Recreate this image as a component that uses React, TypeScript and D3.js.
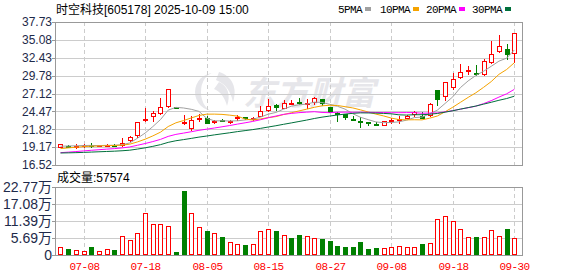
import React from "react";
import * as d3 from "d3";

const dates = [
  "07-03","07-04","07-07","07-08","07-09","07-10","07-11","07-14","07-15","07-16",
  "07-17","07-18","07-21","07-22","07-23","07-24","07-25","08-01","08-04","08-05",
  "08-06","08-07","08-08","08-11","08-12","08-13","08-14","08-15","08-18","08-19",
  "08-20","08-21","08-22","08-25","08-26","08-27","08-28","08-29","09-01","09-02",
  "09-03","09-04","09-05","09-08","09-09","09-10","09-11","09-12","09-15","09-16",
  "09-17","09-18","09-19","09-22","09-23","09-24","09-25","09-26","09-29","09-30",
];

const open = [19.09,19.4,19.25,19.4,19.55,19.36,19.42,19.52,19.27,20.03,20.87,23.05,23.64,24.13,25.17,25.05,22.55,21.81,23.35,23.55,22.9,23.15,22.98,23.4,23.6,23.35,23.64,24.48,25.37,24.87,25.6,25.8,25.6,25.77,26.28,25.1,24.3,24.03,23.4,23.1,22.95,22.6,22.35,23.1,23.2,23.4,24.0,23.75,23.75,27.6,26.56,27.94,29.42,30.32,30.2,29.92,31.6,33.23,33.68,32.93];
const close = [19.58,19.3,19.35,19.5,19.4,19.42,19.5,19.45,19.85,20.73,22.9,23.35,24.23,25.07,27.74,24.95,22.9,23.24,23.55,22.65,23.0,22.95,23.1,23.68,23.3,23.5,24.53,25.27,24.98,25.72,25.68,25.62,25.72,26.46,25.5,24.3,24.2,23.55,23.1,22.85,22.55,22.5,23.0,23.25,23.3,23.85,24.35,23.4,25.62,26.1,28.78,29.23,30.31,30.56,30.1,31.9,32.93,34.12,32.79,36.1];
const high = [19.62,19.45,19.62,19.68,19.73,19.45,19.65,19.65,20.5,20.8,22.95,24.97,24.5,26.45,27.8,25.05,23.9,23.74,24.05,23.79,23.2,23.4,23.15,23.9,23.7,23.65,25.27,26.26,25.6,26.1,26.2,26.5,26.25,26.55,26.3,25.1,24.4,24.1,23.8,23.6,22.95,22.9,23.05,23.5,23.75,24.0,24.55,24.4,25.65,27.6,28.8,30.17,31.45,31.15,31.4,32.2,34.86,35.85,34.42,36.1];
const low = [19.05,19.25,18.95,19.05,19.05,19.25,19.35,19.3,19.2,19.95,20.55,22.9,22.9,24.0,25.0,24.95,22.45,21.51,22.9,22.6,22.55,22.9,22.6,23.0,23.2,23.1,23.6,24.4,24.5,24.77,25.35,25.35,24.8,25.37,25.3,24.25,22.95,23.25,23.0,22.05,22.25,22.25,22.3,22.65,22.55,23.3,23.65,23.35,23.65,25.27,26.06,27.64,29.33,29.82,29.72,29.72,31.5,33.13,32.14,31.7];
const volume = [26700,20000,15600,12200,27800,12200,18900,15600,63300,48900,72200,142000,105000,105000,95500,8900,213000,142000,93300,78900,72200,60000,42200,35500,33300,35500,78900,85500,78900,65500,56600,66600,62200,55500,53300,46600,30000,26700,26700,43300,20000,23300,22200,26700,30000,25500,26700,36700,38900,119000,129000,115500,86600,60000,60000,60000,82200,63300,86600,57574];

// closes of the 29 sessions before the first visible candle (feed the moving averages)
const priorCloses = [18.6,18.5,18.3,18.1,18.0,18.2,18.1,18.0,18.2,18.0,17.8,17.6,17.5,17.6,17.7,17.8,17.9,17.8,17.9,17.9,18.2,18.4,18.6,18.8,19.0,19.1,19.2,19.3,19.32];

const priceTicks = [16.52,19.17,21.82,24.47,27.12,29.78,32.43,35.08,37.73];
const volumeTicks = [0,56900,113900,170800,227700];
const maPeriods = [5,10,20,30];
const maLabels = ["5PMA","10PMA","20PMA","30PMA"];

const title = "时空科技[605178] 2025-10-09 15:00";

const RED = "#ff0000";
const GREEN = "#008000";
const MA_COLORS = ["#a0a0a0","#f5a300","#ff00ff","#00703c"];
const LEGEND_X = [338,380,426,472];
const SANS = "Arial, 'Liberation Sans', 'Noto Sans CJK SC', sans-serif";
const MONO = "'Liberation Mono', 'DejaVu Sans Mono', monospace";

export default function App() {
  const W = 578, H = 276;
  const L = 55, R = 522, T = 22, B = 165, VT = 187, VB = 255;
  const n = close.length;

  const x = d3.scaleLinear().domain([-0.715, 60]).range([L, R]);
  const y = d3.scaleLinear().domain([priceTicks[0], priceTicks[priceTicks.length - 1]]).range([B, T]);
  const yv = d3.scaleLinear().domain([0, volumeTicks[volumeTicks.length - 1]]).range([VB, VT]);

  const all = priorCloses.concat(close);
  const off = priorCloses.length;
  const mas = maPeriods.map((p) =>
    close.map((_, i) => d3.mean(all.slice(i + off - p + 1, i + off + 1)) as number)
  );
  const line = d3.line<number>().x((_, i) => x(i)).y((d) => y(d));

  const gridIdx = d3.range(n).filter((i) => i % 8 === 3);
  const px = (i: number) => Math.round(x(i));
  const fmtVol = (v: number) => (v === 0 ? "0" : (v / 10000).toFixed(2) + "万");

  return (
    <svg width={W} height={H} style={{ position: "absolute", left: 0, top: 0, background: "#fff" }}>
      {/* watermark */}
      <g fill="#e6e6ea">
        <path d="M214 73 A19 19 0 0 0 214 111 A13 19 0 0 1 214 73 Z" />
        <path d="M219 72 C232 76 238 88 233 102 C231 92 226 84 216 80 Z" />
        <path d="M219 82 C228 86 231 95 227 106 C225 98 221 92 214 89 Z" />
        <text x={243} y={105} fontSize={33} fontWeight="bold" fontFamily="'Noto Sans CJK SC', sans-serif" fontStyle="italic">东方财富</text>
      </g>

      {/* horizontal grid */}
      {priceTicks.slice(1, -1).map((t) => (
        <line key={"pg" + t} x1={L} x2={R} y1={Math.round(y(t)) + 0.5} y2={Math.round(y(t)) + 0.5} stroke="#cccccc" />
      ))}
      {volumeTicks.slice(1, -1).map((t) => (
        <line key={"vg" + t} x1={L} x2={R} y1={Math.round(yv(t)) + 0.5} y2={Math.round(yv(t)) + 0.5} stroke="#cccccc" />
      ))}
      {/* vertical dashed grid */}
      {gridIdx.map((i) => (
        <g key={"vx" + i} stroke="#cccccc" strokeDasharray="4,3">
          <line x1={px(i) + 0.5} x2={px(i) + 0.5} y1={T} y2={B} />
          <line x1={px(i) + 0.5} x2={px(i) + 0.5} y1={VT} y2={VB} />
        </g>
      ))}

      {/* candles */}
      {close.map((c, i) => {
        const o = open[i];
        const cx = px(i);
        const up = c >= o;
        const col = up ? RED : GREEN;
        const yt = Math.round(y(Math.max(o, c)));
        const yb = Math.round(y(Math.min(o, c)));
        const h = Math.max(1, yb - yt);
        return (
          <g key={"k" + i}>
            <line x1={cx + 0.5} x2={cx + 0.5} y1={Math.round(y(high[i]))} y2={Math.round(y(low[i]))} stroke={col} />
            {up ? (
              h > 2 ? (
                <rect x={cx - 1.5} y={yt + 0.5} width={4} height={h - 1} fill="#fff" stroke={col} />
              ) : (
                <rect x={cx - 2} y={yt} width={5} height={Math.max(2, h)} fill={col} />
              )
            ) : (
              <rect x={cx - 2} y={yt} width={5} height={Math.max(2, h)} fill={col} />
            )}
          </g>
        );
      })}

      {/* moving averages */}
      {mas.map((m, k) => (
        <path key={"ma" + k} d={line(m) || ""} fill="none" stroke={MA_COLORS[k]} strokeWidth={1} />
      ))}

      {/* volume */}
      {volume.map((v, i) => {
        const prev = i === 0 ? priorCloses[priorCloses.length - 1] : close[i - 1];
        const up = close[i] >= prev;
        const cx = px(i);
        const yt = Math.round(yv(v));
        return up ? (
          <rect key={"v" + i} x={cx - 1.5} y={yt + 0.5} width={4} height={VB - yt - 1} fill="#fff" stroke={RED} />
        ) : (
          <rect key={"v" + i} x={cx - 2} y={yt} width={5} height={VB - yt} fill={GREEN} />
        );
      })}

      {/* frames */}
      <rect x={L + 0.5} y={T + 0.5} width={R - L} height={B - T} fill="none" stroke="#999" />
      <rect x={L + 0.5} y={VT + 0.5} width={R - L} height={VB - VT} fill="none" stroke="#999" />

      {/* price axis */}
      {priceTicks.map((t) => (
        <g key={"pt" + t}>
          <line x1={L - 3} x2={L} y1={Math.round(y(t)) + 0.5} y2={Math.round(y(t)) + 0.5} stroke="#999" />
          <text x={52} y={y(t)} dy="0.36em" textAnchor="end" fontSize={12} fontFamily={SANS} fill="#1e2a4a">{t.toFixed(2)}</text>
        </g>
      ))}
      {/* volume axis */}
      {volumeTicks.map((t) => (
        <g key={"vt" + t}>
          <line x1={L - 3} x2={L} y1={Math.round(yv(t)) + 0.5} y2={Math.round(yv(t)) + 0.5} stroke="#999" />
          <text x={52} y={yv(t)} dy="0.36em" textAnchor="end" fontSize={14} fontFamily={SANS} fill="#1e2a4a">{fmtVol(t)}</text>
        </g>
      ))}

      {/* date axis */}
      {gridIdx.map((i) => (
        <text key={"dx" + i} x={px(i) + 0.5} y={270} textAnchor="middle" fontSize={11} letterSpacing={-0.6} fontFamily={MONO} fill={RED}>{dates[i]}</text>
      ))}

      {/* header */}
      <text x={56} y={14} fontSize={12} fontFamily={SANS} fill="#000">{title}</text>
      {maLabels.map((lab, k) => (
        <g key={"lg" + k}>
          <text x={LEGEND_X[k]} y={13} fontSize={11} letterSpacing={-0.6} fontFamily={MONO} fill="#000">{lab}</text>
          <rect x={LEGEND_X[k] + lab.length * 6 + 3} y={7} width={6} height={4} fill={MA_COLORS[k]} />
        </g>
      ))}
      <text x={57} y={182} fontSize={12} fontFamily={SANS} fill="#000">{"成交量:" + volume[n - 1]}</text>
    </svg>
  );
}
